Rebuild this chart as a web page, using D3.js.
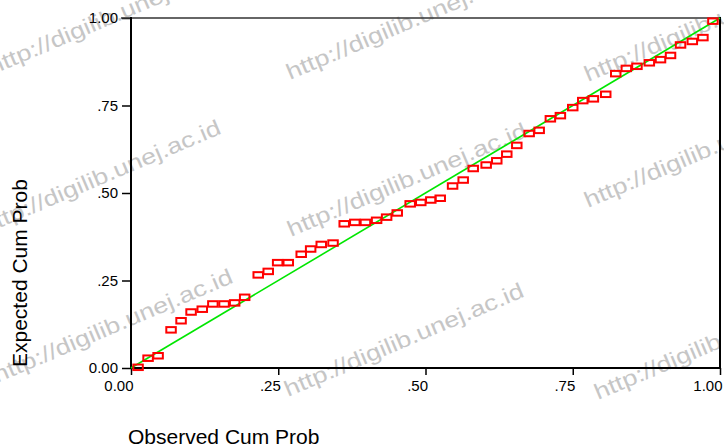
<!DOCTYPE html>
<html>
<head>
<meta charset="utf-8">
<script src="https://cdn.jsdelivr.net/npm/d3@7"></script>
<style>
  html, body { margin: 0; padding: 0; background: #fff; }
  svg { display: block; font-family: Arial, "Liberation Sans", sans-serif; }
</style>
</head>
<body>
<div id="chart"></div>
<script>
// Normal P-P plot: observed vs expected cumulative probability
const observed = [0.012, 0.029, 0.046, 0.068, 0.085, 0.102, 0.121, 0.139, 0.158, 0.176,
  0.193, 0.216, 0.233, 0.249, 0.267, 0.289, 0.305, 0.323, 0.343, 0.362,
  0.380, 0.398, 0.417, 0.434, 0.452, 0.474, 0.492, 0.509, 0.525, 0.546,
  0.564, 0.581, 0.603, 0.621, 0.638, 0.655, 0.676, 0.693, 0.712, 0.729,
  0.750, 0.767, 0.785, 0.806, 0.823, 0.841, 0.859, 0.880, 0.899, 0.916,
  0.933, 0.953, 0.971, 0.988];
const expected = [0.002, 0.028, 0.035, 0.109, 0.135, 0.160, 0.168, 0.183, 0.183, 0.186,
  0.202, 0.266, 0.276, 0.301, 0.301, 0.325, 0.340, 0.353, 0.357, 0.412,
  0.416, 0.416, 0.422, 0.431, 0.443, 0.469, 0.473, 0.480, 0.485, 0.520,
  0.537, 0.570, 0.580, 0.592, 0.611, 0.636, 0.670, 0.679, 0.712, 0.721,
  0.744, 0.764, 0.769, 0.782, 0.841, 0.856, 0.862, 0.872, 0.881, 0.893,
  0.923, 0.933, 0.944, 0.991];
const tickValues = [0, 0.25, 0.5, 0.75, 1];
const tickLabels = ['0.00', '.25', '.50', '.75', '1.00'];
const refLine = [0, 1];
const xTitle = 'Observed Cum Prob';
const yTitle = 'Expected Cum Prob';
const watermark = 'http://digilib.unej.ac.id';

const width = 724, height = 446;
const plotLeft = 131, plotRight = 720, plotTop = 18, plotBottom = 368;

const svg = d3.select('#chart').append('svg')
    .attr('width', width)
    .attr('height', height);

// watermark tiles (start points of each stamp)
const stamps = [[-8, 75], [290, 80], [588, 82], [-15, 234], [291, 237], [588, 208],
  [-3, 383], [288, 397], [598, 400]];
svg.append('g')
    .selectAll('text')
    .data(stamps)
    .enter()
    .append('text')
    .attr('transform', d => `translate(${d[0]},${d[1]}) rotate(-23)`)
    .attr('textLength', 258)
    .attr('lengthAdjust', 'spacingAndGlyphs')
    .style('font-size', '22px')
    .style('fill', '#c6c6c6')
    .text(watermark);

const x = d3.scaleLinear().domain([0, 1]).range([plotLeft, plotRight]);
const y = d3.scaleLinear().domain([0, 1]).range([plotBottom, plotTop]);

const fmt = v => tickLabels[tickValues.indexOf(v)];

// y axis
const yAxis = svg.append('g')
    .attr('transform', `translate(${plotLeft},0)`)
    .call(d3.axisLeft(y).tickValues(tickValues).tickFormat(fmt)
        .tickSize(9).tickSizeOuter(0).tickPadding(4));
yAxis.select('.domain').remove();
yAxis.selectAll('line').attr('stroke', '#000').attr('stroke-width', 1.5);
yAxis.selectAll('text').style('font-size', '15px').style('font-family', 'Arial, "Liberation Sans", sans-serif').attr('fill', '#000');

// x axis
const xAxis = svg.append('g')
    .attr('transform', `translate(0,${plotBottom})`)
    .call(d3.axisBottom(x).tickValues(tickValues).tickFormat(fmt)
        .tickSize(7).tickSizeOuter(0).tickPadding(5));
xAxis.select('.domain').remove();
xAxis.selectAll('line').attr('stroke', '#000').attr('stroke-width', 1.5);
xAxis.selectAll('text')
    .style('font-size', '15px')
    .style('font-family', 'Arial, "Liberation Sans", sans-serif')
    .attr('fill', '#000')
    .attr('text-anchor', 'end')
    .attr('dx', 2);

// frame
svg.append('line').attr('x1', plotLeft - 10).attr('x2', plotRight).attr('y1', plotTop).attr('y2', plotTop)
    .attr('stroke', '#333').attr('stroke-width', 1.5);
svg.append('line').attr('x1', plotRight).attr('x2', plotRight).attr('y1', plotTop - 1).attr('y2', plotBottom)
    .attr('stroke', '#000').attr('stroke-width', 2);
svg.append('line').attr('x1', plotLeft).attr('x2', plotLeft).attr('y1', plotTop - 1).attr('y2', plotBottom + 1)
    .attr('stroke', '#000').attr('stroke-width', 2);
svg.append('line').attr('x1', plotLeft).attr('x2', plotRight + 1).attr('y1', plotBottom).attr('y2', plotBottom)
    .attr('stroke', '#000').attr('stroke-width', 2);

// reference diagonal
svg.append('line')
    .attr('x1', x(refLine[0])).attr('y1', y(refLine[0]))
    .attr('x2', x(refLine[1])).attr('y2', y(refLine[1]))
    .attr('stroke', '#00e600')
    .attr('stroke-width', 1.6);

// points
const pts = observed.map((o, i) => ({ o, e: expected[i] }));
svg.append('g')
    .selectAll('rect')
    .data(pts)
    .enter()
    .append('rect')
    .attr('x', d => x(d.o) - 4.75)
    .attr('y', d => y(d.e) - 2.75)
    .attr('width', 9.5)
    .attr('height', 5.5)
    .attr('fill', 'none')
    .attr('stroke', '#ff0000')
    .attr('stroke-width', 2);

// titles
svg.append('text')
    .attr('x', 128)
    .attr('y', 444)
    .style('font-size', '21px')
    .attr('fill', '#000')
    .text(xTitle);

svg.append('text')
    .attr('transform', 'translate(27,367) rotate(-90)')
    .style('font-size', '21px')
    .attr('fill', '#000')
    .text(yTitle);
</script>
</body>
</html>
